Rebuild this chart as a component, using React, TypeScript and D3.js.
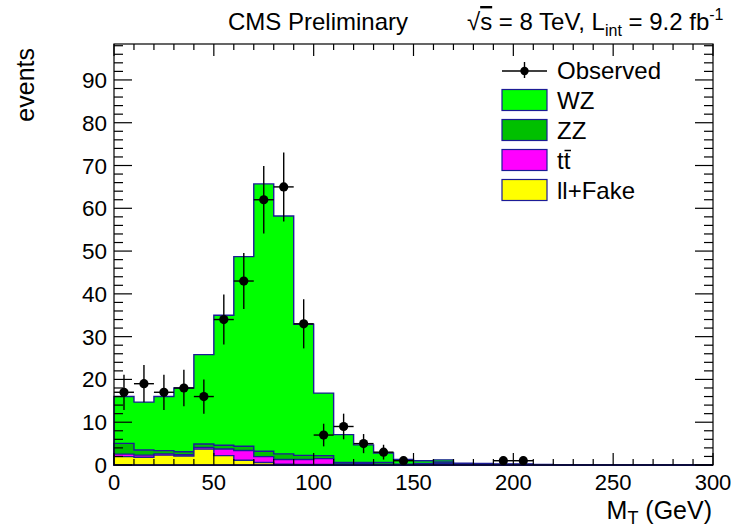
import React from "react";
import * as d3 from "d3";

// ---------- data (bins of 10 GeV from 0 to 300) ----------
const binLow = [0,10,20,30,40,50,60,70,80,90,100,110,120,130,140,150,160,170,180,190,200,210,220,230,240,250,260,270,280,290];
const fake  = [1.95,1.8,2.3,2.1,3.7,2.2,1.1,0.6,0.2,0.1,0.1,0.05,0.05,0,0,0,0.05,0,0,0,0,0,0,0,0,0,0,0,0,0];
const ttbar = [0.6,0.5,0.3,0.3,0.4,1.55,2.3,1.35,1.1,1.2,1.4,0.2,0.3,0.1,0.05,0.05,0.35,0.05,0,0,0,0,0,0,0,0,0,0,0,0];
const zz    = [2.5,1.2,0.75,0.7,0.8,0.85,1.0,1.25,1.3,0.95,0.7,0.35,0.25,0.5,0.15,0.3,0.3,0.15,0.15,0.1,0.1,0.05,0,0,0,0,0,0,0,0];
const wz    = [10.95,11.2,12.65,14.9,20.9,30.4,44.3,62.5,55.6,30.65,14.6,6.5,4.1,2.2,1.1,0.65,0.5,0.2,0.2,0.15,0.15,0.05,0,0,0,0,0,0,0,0];
const observed = [17,19,17,18,16,34,43,62,65,33,7,9,5,3,1,0,0,0,0,1,1,0,0,0,0,0,0,0,0,0];
const xTicks = [0,50,100,150,200,250,300];
const yTicks = [0,10,20,30,40,50,60,70,80,90];

const W = 733, H = 530;
const FL = 114, FR = 713, FT = 44, FB = 465;
const x = d3.scaleLinear().domain([0, 300]).range([FL, FR]);
const y = d3.scaleLinear().domain([0, 98.4]).range([FB, FT]);

const FONT = "'Liberation Sans', Arial, Helvetica, sans-serif";
const OUT = "#1c1c96";

function stackSum(...arrs: number[][]) {
  return binLow.map((_, i) => arrs.reduce((s, a) => s + a[i], 0));
}

function histPath(vals: number[]) {
  const pts = binLow.map((b, i) => [b, vals[i]] as [number, number]);
  pts.push([300, vals[vals.length - 1]]);
  const area = d3.area<[number, number]>()
    .x(d => x(d[0]))
    .y0(y(0))
    .y1(d => y(d[1]))
    .curve(d3.curveStepAfter);
  return area(pts) || "";
}

export default function App() {
  const layers = [
    { vals: stackSum(wz, zz, ttbar, fake), fill: "#00ff00" },
    { vals: stackSum(zz, ttbar, fake), fill: "#00c000" },
    { vals: stackSum(ttbar, fake), fill: "#ff00ff" },
    { vals: stackSum(fake), fill: "#ffff00" },
  ];

  const xMinor = d3.range(0, 301, 10);
  const yMinor = d3.range(0, 98.4, 2);

  const legendItems = [
    { label: "WZ", fill: "#00ff00" },
    { label: "ZZ", fill: "#00c000" },
    { label: "tt", fill: "#ff00ff" },
    { label: "ll+Fake", fill: "#ffff00" },
  ];

  return (
    <svg width={W} height={H} style={{ position: "absolute", left: 0, top: 0, background: "#fff" }}
      fontFamily={FONT}>
      <rect x={0} y={0} width={W} height={H} fill="#fff" />
      {/* stacked histograms */}
      {layers.map((l, i) => (
        <path key={i} d={histPath(l.vals)} fill={l.fill} stroke={OUT} strokeWidth={1.4} />
      ))}

      {/* frame */}
      <rect x={FL} y={FT} width={FR - FL} height={FB - FT} fill="none" stroke="#000" strokeWidth={1.2} />

      {/* x ticks */}
      {xMinor.map(v => {
        const major = v % 50 === 0;
        const len = major ? 12 : 6;
        return (
          <g key={"xt" + v}>
            <line x1={x(v)} x2={x(v)} y1={FB} y2={FB - len} stroke="#000" strokeWidth={1.2} />
            <line x1={x(v)} x2={x(v)} y1={FT} y2={FT + len} stroke="#000" strokeWidth={1.2} />
          </g>
        );
      })}
      {/* y ticks */}
      {yMinor.map(v => {
        const major = Math.abs(v % 10) < 1e-6;
        const len = major ? 18 : 9;
        return (
          <g key={"yt" + v}>
            <line x1={FL} x2={FL + len} y1={y(v)} y2={y(v)} stroke="#000" strokeWidth={1.2} />
            <line x1={FR} x2={FR - len} y1={y(v)} y2={y(v)} stroke="#000" strokeWidth={1.2} />
          </g>
        );
      })}

      {/* tick labels */}
      {xTicks.map(v => (
        <text key={"xl" + v} x={x(v)} y={490} fontSize={22} textAnchor="middle" fill="#000">{v}</text>
      ))}
      {yTicks.map(v => (
        <text key={"yl" + v} x={107} y={y(v) + 8} fontSize={22.5} textAnchor="end" fill="#000">{v}</text>
      ))}

      {/* axis titles */}
      <text x={712} y={519} fontSize={25} textAnchor="end" fill="#000">
        M<tspan fontSize={18} dy={5}>T</tspan><tspan dy={-5}> (GeV)</tspan>
      </text>
      <text transform="translate(34,48) rotate(-90)" fontSize={25} textAnchor="end" fill="#000">events</text>

      {/* header */}
      <text x={228} y={30} fontSize={24} fill="#000">CMS Preliminary</text>
      <text x={467} y={30} fontSize={24} fill="#000">
        √<tspan style={{ textDecoration: "overline" }}>s</tspan> = 8 TeV, L<tspan fontSize={16} dy={6}>int</tspan><tspan dy={-6}> = 9.2 fb</tspan><tspan fontSize={16} dy={-10}>-1</tspan>
      </text>

      {/* observed data */}
      {observed.map((n, i) => {
        if (n <= 0) return null;
        const cx = x(binLow[i] + 5);
        const e = Math.sqrt(n);
        return (
          <g key={"o" + i}>
            <line x1={x(binLow[i])} x2={x(binLow[i] + 10)} y1={y(n)} y2={y(n)} stroke="#000" strokeWidth={1.4} />
            <line x1={cx} x2={cx} y1={y(n - e)} y2={y(n + e)} stroke="#000" strokeWidth={1.4} />
            <circle cx={cx} cy={y(n)} r={4.6} fill="#000" />
          </g>
        );
      })}

      {/* legend */}
      <g>
        <line x1={502} x2={547} y1={71} y2={71} stroke="#000" strokeWidth={1.4} />
        <line x1={524.5} x2={524.5} y1={62} y2={78} stroke="#000" strokeWidth={1.4} />
        <circle cx={524.5} cy={71} r={4.2} fill="#000" />
        <text x={557} y={79} fontSize={24} fill="#000">Observed</text>
        {legendItems.map((it, i) => {
          const top = 89.5 + i * 30;
          return (
            <g key={it.label}>
              <rect x={502} y={top} width={45} height={21} fill={it.fill} stroke={OUT} strokeWidth={1.2} />
              {it.label === "tt" ? (
                <g>
                  <text x={557} y={top + 19} fontSize={24} fill="#000">tt</text>
                  <line x1={564.5} x2={571} y1={top + 1} y2={top + 1} stroke="#000" strokeWidth={1.5} />
                </g>
              ) : (
                <text x={557} y={top + 19} fontSize={24} fill="#000">{it.label}</text>
              )}
            </g>
          );
        })}
      </g>
    </svg>
  );
}
